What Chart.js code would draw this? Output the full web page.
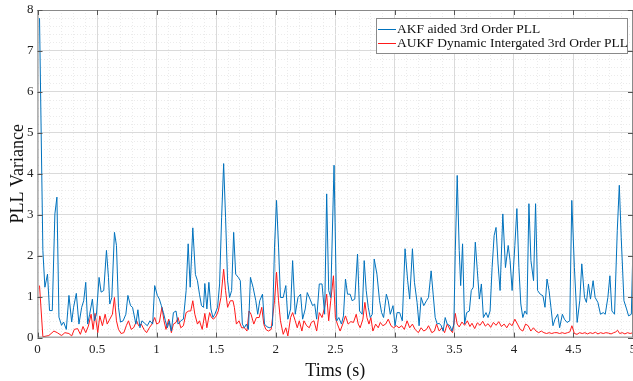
<!DOCTYPE html>
<html>
<head>
<meta charset="utf-8">
<script src="https://cdn.jsdelivr.net/npm/chart.js@4.4.0/dist/chart.umd.min.js"></script>
<style>
  html, body { margin: 0; padding: 0; background: #fff; }
</style>
</head>
<body>
<canvas id="myChart" width="633" height="381"></canvas>
<script>
'use strict';
// series labels
const seriesNames = ['AKF aided 3rd Order PLL', 'AUKF Dynamic Intergated 3rd Order PLL'];
const xTickLabels = ['0', '0.5', '1', '1.5', '2', '2.5', '3', '3.5', '4', '4.5', '5'];
const yTickLabels = ['0', '1', '2', '3', '4', '5', '6', '7', '8'];

// AKF aided (blue)
const akfTime = [
  0.017,0.045,0.062,0.084,0.101,0.124,0.146,0.163,0.180,0.202,0.219,0.242,0.264,0.287,0.303,0.326,0.348,0.371,0.388,0.405,
  0.421,0.438,0.461,0.478,0.495,0.517,0.534,0.556,0.579,0.596,0.607,0.624,0.646,0.663,0.680,0.697,0.719,0.742,0.759,0.781,0.798,
  0.826,0.843,0.860,0.877,0.899,0.922,0.944,0.967,0.984,1.006,1.023,1.040,1.057,1.074,1.090,1.107,1.124,1.141,1.163,1.180,
  1.203,1.225,1.248,1.265,1.282,1.304,1.326,1.343,1.360,1.377,1.394,1.405,1.422,1.439,1.456,1.473,1.489,1.512,1.529,1.546,
  1.563,1.579,1.596,1.613,1.630,
  1.647,1.664,1.686,1.703,1.720,1.737,1.754,1.771,1.788,1.810,1.833,1.849,1.866,1.889,1.906,1.928,1.951,1.973,1.990,2.007,
  2.024,2.040,2.063,2.085,2.102,2.125,2.142,2.164,2.187,2.209,2.226,2.248,2.265,2.288,2.310,2.327,2.344,2.366,2.389,2.411,
  2.428,2.445,2.462,
  2.490,2.513,2.530,2.552,2.569,2.586,2.603,2.625,2.642,2.664,2.687,2.704,2.726,2.743,2.760,2.777,2.794,2.811,2.827,2.850,
  2.872,2.889,2.906,2.929,2.945,2.962,2.985,3.002,3.019,3.041,3.063,3.086,3.108,3.125,3.148,3.165,3.187,3.204,3.221,3.243,
  3.266,3.283,
  3.305,3.322,3.339,3.356,3.373,3.390,3.406,3.423,3.440,3.463,3.480,3.496,3.508,3.524,3.541,3.553,3.569,3.586,3.603,3.626,
  3.642,3.659,3.676,3.693,3.710,3.727,3.744,3.766,3.783,3.800,3.817,3.834,3.850,3.867,3.884,3.907,3.929,3.952,3.968,3.985,
  4.008,4.025,4.042,4.058,4.075,4.092,4.109,
  4.126,4.143,4.165,4.182,4.199,4.221,4.244,4.261,4.278,4.295,4.311,4.328,4.345,4.368,4.384,4.407,4.424,4.446,4.469,4.486,
  4.508,4.531,4.553,4.570,4.593,4.609,4.626,4.643,4.665,4.682,4.705,4.727,4.750,4.767,4.789,4.806,4.823,4.845,4.868,4.885,
  4.901,4.924,4.946,4.963,4.986,5.0
];
const akfVar = [
  7.8,2.13,1.23,1.55,0.66,0.66,3.02,3.43,0.50,0.30,0.38,0.20,1.03,0.38,0.74,1.08,0.33,0.74,0.90,1.35,
  0.33,0.57,0.94,0.41,0.57,1.47,1.11,1.15,2.13,1.47,0.82,0.98,2.57,2.25,0.74,0.38,0.41,0.57,1.03,0.78,0.74,
  0.33,0.68,0.24,0.41,0.35,0.29,0.41,0.33,1.27,1.03,0.94,0.78,0.61,0.41,0.24,0.41,0.16,0.61,0.65,0.33,
  0.41,0.45,1.15,2.29,1.23,2.68,1.54,1.39,1.06,0.78,0.74,1.32,0.70,1.35,0.70,0.49,0.57,0.74,1.31,2.94,
  4.25,2.94,1.39,0.98,1.15,
  2.57,1.55,1.47,1.39,0.33,0.24,0.33,0.20,1.47,1.23,0.90,0.57,0.90,1.06,0.33,0.26,0.24,0.29,2.21,3.35,
  2.21,0.98,0.98,1.27,0.45,0.70,1.88,0.57,0.98,1.06,0.45,0.70,1.10,0.94,0.78,0.82,0.45,1.31,1.31,0.57,
  3.51,1.15,0.98,
  4.21,0.41,0.49,0.33,0.53,1.43,1.06,1.06,0.90,0.94,2.04,0.65,0.57,1.88,1.15,0.74,0.49,0.57,1.92,1.55,
  0.90,0.61,0.49,1.06,0.90,0.57,0.78,0.29,0.61,0.61,0.41,2.17,1.39,0.94,2.17,1.35,0.86,0.29,0.98,0.78,
  0.90,0.98,
  1.63,1.06,0.49,0.33,0.35,0.29,0.16,0.49,0.33,0.29,0.16,0.33,2.13,3.96,2.13,1.27,2.29,0.33,0.61,0.65,
  1.15,1.23,2.33,1.63,0.94,1.31,0.49,0.61,0.49,0.65,1.71,2.49,2.69,1.80,1.15,3.02,1.71,2.25,1.88,1.15,
  2.25,3.15,1.71,0.82,0.49,0.65,0.57,
  3.27,1.88,1.39,3.27,1.15,1.06,1.02,0.74,1.43,1.15,0.74,0.29,0.45,0.57,0.24,0.57,0.45,0.37,0.41,3.35,
  1.71,0.37,0.90,1.80,0.98,0.86,1.31,0.94,1.39,0.98,0.86,0.57,0.61,0.57,0.98,1.51,0.65,0.57,2.61,3.72,
  2.45,0.90,0.70,0.53,0.57,2.29
];

// AUKF dynamic integrated (red)
const aukfTime = [
  0.017,0.045,0.095,0.138,0.166,0.202,0.230,0.264,0.287,0.309,0.337,0.360,0.382,0.405,0.427,0.450,0.467,0.483,0.506,0.523,
  0.545,0.568,0.585,0.607,0.629,0.646,0.663,0.680,0.702,0.725,0.747,0.764,0.787,0.809,
  0.832,0.849,0.871,0.894,0.916,0.939,0.961,0.984,1.001,1.023,1.045,1.062,1.079,1.102,1.124,1.141,1.163,1.180,1.203,1.225,
  1.248,1.270,1.287,1.304,1.321,1.343,1.360,1.383,1.405,1.422,1.445,1.461,1.478,1.501,1.518,1.540,1.563,1.579,1.596,1.619,
  1.641,
  1.653,1.670,1.692,1.714,1.737,1.759,1.776,1.793,1.816,1.838,1.861,1.883,1.900,1.917,1.939,1.962,1.990,2.007,2.024,2.040,
  2.063,2.085,2.102,2.125,2.142,2.164,2.181,2.198,2.220,2.237,2.260,2.282,2.299,2.321,2.344,2.366,2.389,2.411,2.428,2.445,
  2.462,
  2.485,2.501,2.518,2.541,2.563,2.586,2.608,2.631,2.653,2.676,2.693,2.709,2.732,2.749,2.766,2.783,2.799,2.816,2.839,2.861,
  2.878,2.900,2.923,2.945,2.968,2.990,3.013,3.035,3.058,3.080,3.103,3.125,3.148,3.170,3.198,3.221,3.243,3.266,3.283,
  3.311,3.333,3.350,3.373,3.395,3.418,3.440,3.463,3.485,3.508,3.524,3.541,3.564,3.586,3.609,3.631,3.648,3.671,3.693,3.716,
  3.738,3.760,3.783,3.805,3.828,3.850,3.873,3.895,3.918,3.940,3.963,3.985,4.008,4.030,4.053,4.075,4.098,4.120,
  4.142,4.164,4.186,4.208,4.230,4.252,4.274,4.296,4.318,4.340,4.362,4.384,4.406,4.428,4.450,4.470,4.487,4.508,4.530,4.552,
  4.574,4.596,4.618,4.640,4.662,4.684,4.706,4.728,4.750,4.772,4.794,4.816,4.838,4.856,4.870,4.888,4.910,4.932,4.954,4.976,
  5.0
];
const aukfVar = [
  1.27,0.02,0.05,0.16,0.12,0.05,0.12,0.10,0.04,0.20,0.22,0.08,0.27,0.12,0.28,0.57,0.20,0.59,0.12,0.53,
  0.29,0.57,0.33,0.45,0.57,0.98,0.41,0.20,0.10,0.12,0.30,0.41,0.20,0.25,
  0.41,0.29,0.33,0.20,0.12,0.24,0.33,0.49,0.33,0.37,0.74,0.41,0.20,0.45,0.12,0.33,0.37,0.49,0.24,0.29,
  0.61,0.65,0.65,0.90,0.57,0.33,0.41,0.20,0.59,0.24,0.61,0.49,0.45,0.53,0.65,0.98,1.67,1.15,0.74,0.90,
  0.90,
  0.74,0.33,0.41,0.24,0.24,0.16,0.65,0.57,0.33,0.49,0.49,0.74,0.33,0.20,0.16,0.20,0.90,1.60,0.90,0.41,
  0.08,0.24,0.04,0.49,0.61,0.41,0.24,0.41,0.16,0.41,0.29,0.24,0.37,0.41,0.16,0.61,0.49,0.74,1.06,0.41,
  0.90,
  1.51,0.49,0.33,0.16,0.33,0.53,0.33,0.39,0.37,0.57,0.33,0.24,0.45,0.86,0.49,0.33,0.49,0.16,0.33,0.24,
  0.37,0.29,0.33,0.45,0.29,0.24,0.29,0.24,0.29,0.20,0.41,0.24,0.33,0.20,0.12,0.24,0.16,0.20,0.29,
  0.12,0.16,0.33,0.16,0.24,0.12,0.33,0.20,0.12,0.59,0.33,0.26,0.38,0.30,0.41,0.27,0.35,0.22,0.36,0.30,
  0.40,0.28,0.34,0.25,0.37,0.30,0.39,0.27,0.33,0.24,0.35,0.29,0.45,0.33,0.20,0.16,0.33,0.29,
  0.16,0.24,0.16,0.12,0.16,0.12,0.10,0.12,0.10,0.12,0.12,0.10,0.12,0.10,0.12,0.14,0.29,0.10,0.08,0.12,
  0.10,0.12,0.09,0.12,0.10,0.13,0.09,0.12,0.10,0.12,0.11,0.09,0.12,0.14,0.18,0.10,0.12,0.09,0.12,0.10,
  0.12
];

const seriesColors = ['#0072BD', 'rgb(255,25,25)'];
const serif = '"Liberation Serif", "Times New Roman", serif';

function toPoints(ts, vs) {
  return ts.map((t, i) => ({ x: t, y: vs[i] }));
}
function onStep(v, step) {
  return Math.abs(v / step - Math.round(v / step)) < 1e-6;
}

// frame + inward tick marks, like a matlab box
const boxPlugin = {
  id: 'boxPlugin',
  afterDatasetsDraw(chart) {
    const { ctx, chartArea: a, scales } = chart;
    ctx.save();
    ctx.strokeStyle = '#8a8a8a';
    ctx.lineWidth = 1;
    ctx.strokeRect(a.left + 0.5, a.top + 0.5, a.right - a.left - 1, a.bottom - a.top - 1);
    ctx.strokeStyle = '#555';
    ctx.beginPath();
    xTickLabels.forEach(l => {
      const px = Math.round(scales.x.getPixelForValue(+l)) + 0.5;
      ctx.moveTo(px, a.bottom); ctx.lineTo(px, a.bottom - 5);
      ctx.moveTo(px, a.top); ctx.lineTo(px, a.top + 5);
    });
    yTickLabels.forEach(l => {
      const py = Math.round(scales.y.getPixelForValue(+l)) + 0.5;
      ctx.moveTo(a.left, py); ctx.lineTo(a.left + 5, py);
      ctx.moveTo(a.right, py); ctx.lineTo(a.right - 5, py);
    });
    ctx.stroke();
    ctx.restore();
  }
};

// legend box at the top right
const legendPlugin = {
  id: 'legendPlugin',
  afterDraw(chart) {
    const c = chart.ctx;
    const left = 376, top = 18, w = 251, h = 35;
    c.save();
    c.fillStyle = '#fff';
    c.fillRect(left, top, w, h);
    c.strokeStyle = '#8a8a8a';
    c.lineWidth = 1;
    c.strokeRect(left + 0.5, top + 0.5, w, h);
    c.font = '13.5px ' + serif;
    c.textBaseline = 'middle';
    seriesNames.forEach((name, i) => {
      const y = top + 10.5 + i * 14;
      c.strokeStyle = seriesColors[i];
      c.beginPath();
      c.moveTo(left + 2, Math.round(y) + 0.5);
      c.lineTo(left + 20, Math.round(y) + 0.5);
      c.stroke();
      c.fillStyle = '#111';
      c.fillText(name, left + 21, y + 1);
    });
    c.restore();
  }
};

const ctx = document.getElementById('myChart').getContext('2d');
const myChart = new Chart(ctx, {
  type: 'line',
  data: {
    datasets: [
      { label: seriesNames[0], data: toPoints(akfTime, akfVar), borderColor: seriesColors[0], borderWidth: 1, pointRadius: 0, tension: 0 },
      { label: seriesNames[1], data: toPoints(aukfTime, aukfVar), borderColor: seriesColors[1], borderWidth: 1, pointRadius: 0, tension: 0 }
    ]
  },
  options: {
    responsive: false,
    animation: false,
    layout: { padding: { left: 14, top: 0, right: 0, bottom: 0 } },
    plugins: { legend: { display: false }, tooltip: { enabled: false } },
    scales: {
      x: {
        type: 'linear',
        min: 0,
        max: 5,
        afterBuildTicks: axis => {
          const t = [];
          for (let k = 0; k <= 50; k++) t.push({ value: k / 10 });
          axis.ticks = t;
        },
        afterFit: axis => { axis.paddingRight = 0; axis.paddingLeft = 0; },
        ticks: {
          autoSkip: false,
          maxRotation: 0,
          padding: 4,
          color: '#222',
          font: { family: serif, size: 13 },
          callback: v => {
            const s = String(+v.toFixed(2));
            return xTickLabels.includes(s) ? s : '';
          }
        },
        grid: {
          drawTicks: false,
          color: c => (c.tick && onStep(c.tick.value, 0.5)) ? '#dadada' : '#ebebeb'
        },
        border: {
          display: false,
          dash: c => (c.tick && !onStep(c.tick.value, 0.5)) ? [1, 2] : []
        },
        title: {
          display: true,
          text: 'Tims (s)',
          color: '#111',
          font: { family: serif, size: 18, lineHeight: 0.6 },
          padding: { top: 5, bottom: 4 }
        }
      },
      y: {
        min: 0,
        max: 8,
        afterBuildTicks: axis => {
          const t = [];
          for (let k = 0; k <= 40; k++) t.push({ value: k / 5 });
          axis.ticks = t;
        },
        afterFit: axis => { axis.paddingTop = 10; },
        ticks: {
          autoSkip: false,
          padding: 4,
          color: '#222',
          font: { family: serif, size: 13 },
          callback: v => {
            const s = String(+v.toFixed(2));
            return yTickLabels.includes(s) ? s : '';
          }
        },
        grid: {
          drawTicks: false,
          color: c => (c.tick && onStep(c.tick.value, 1)) ? '#dadada' : '#ebebeb'
        },
        border: {
          display: false,
          dash: c => (c.tick && !onStep(c.tick.value, 1)) ? [1, 2] : []
        },
        title: {
          display: true,
          text: 'PLL Variance',
          color: '#111',
          font: { family: serif, size: 18, lineHeight: 0.5 },
          padding: { top: 0, bottom: 0 }
        }
      }
    }
  },
  plugins: [boxPlugin, legendPlugin]
});
</script>
</body>
</html>
